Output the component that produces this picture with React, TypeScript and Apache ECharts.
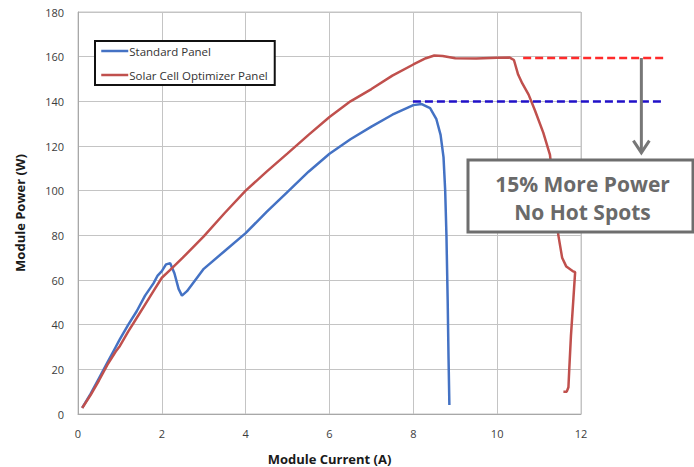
import React, { useEffect, useRef } from "react";
import * as echarts from "echarts";

// Standard panel: module current (A) vs module power (W)
const standardCurrent = [0.1, 0.3, 0.5, 0.7, 0.9, 1.0, 1.2, 1.4, 1.6, 1.8, 1.9, 2.0, 2.1, 2.2, 2.3, 2.4, 2.48, 2.6, 2.8, 3.0, 3.5, 4.0, 4.5, 5.0, 5.5, 6.0, 6.5, 7.0, 7.5, 8.0, 8.2, 8.4, 8.55, 8.65, 8.72, 8.76, 8.79, 8.82, 8.84, 8.86];
const standardPower = [2.7, 9, 16, 23, 30, 33.5, 40, 46, 53, 58.5, 62, 64, 67, 67.5, 63, 56, 53, 55, 60, 65, 73, 81, 90.5, 99.5, 108.5, 116.5, 123, 128.7, 134, 138.3, 138.8, 137, 132, 125, 115, 100, 80, 50, 25, 4];

// Solar Cell Optimizer panel
const optimizerCurrent = [0.1, 0.3, 0.5, 0.7, 0.9, 1.0, 1.2, 1.4, 1.6, 1.8, 2.0, 2.2, 2.5, 3.0, 3.5, 4.0, 4.5, 5.0, 5.5, 6.0, 6.5, 7.0, 7.5, 8.0, 8.3, 8.5, 8.7, 9.0, 9.5, 10.0, 10.3, 10.4, 10.5, 10.6, 10.75, 10.9, 11.1, 11.26, 11.4, 11.46, 11.55, 11.65, 11.8, 11.86, 11.82, 11.76, 11.72, 11.7, 11.66, 11.58];
const optimizerPower = [2.7, 8.5, 15, 22, 28, 30.5, 37, 43, 49, 55, 61, 64.5, 70, 79.5, 90, 100, 108.5, 116.7, 125, 133, 140, 145.5, 151.5, 156.5, 159.3, 160.5, 160.3, 159.3, 159.2, 159.5, 159.6, 158.5, 152, 148, 143, 136, 126, 116, 90, 80, 70, 66, 64, 63.5, 52, 35, 20, 12, 10, 10];

// Reference levels (dashed) and annotation
const optimizerMaxLine = { current: [10.62, 14.05], power: 159.4 };
const standardMaxLine = { current: [7.99, 14.0], power: 139.9 };
const arrowCurrent = 13.44;
const arrowPower = [159.4, 117];

const xTicks = { min: 0, max: 12, interval: 2 };
const yTicks = { min: 0, max: 180, interval: 20 };

const legendNames = ["Standard Panel", "Solar Cell Optimizer Panel"];
const annotationLines = ["15% More Power", "No Hot Spots"];

const pairs = (xs: number[], ys: number[]) => xs.map((x, i) => [x, ys[i]]);

export default function App() {
  const ref = useRef<HTMLDivElement>(null);

  useEffect(() => {
    if (!ref.current) return;
    const chart = echarts.init(ref.current, undefined, { renderer: "svg" });
    const font = "'Open Sans', 'Liberation Sans', sans-serif";
    chart.setOption({
      animation: false,
      backgroundColor: "#ffffff",
      grid: {
        left: 78,
        right: 113,
        top: 12,
        bottom: 53,
        containLabel: false,
        outerBoundsMode: "none",
        show: true,
        borderColor: "#c4c4c4",
        borderWidth: 1,
      },
      legend: {
        data: legendNames,
        orient: "vertical",
        left: 95,
        top: 41,
        backgroundColor: "#ffffff",
        borderColor: "#111111",
        borderWidth: 2,
        padding: [4, 7, 4, 5],
        itemWidth: 27,
        itemHeight: 14,
        itemGap: 12,
        selectedMode: false,
        itemStyle: { opacity: 0 },
        lineStyle: { width: 2.5 },
        textStyle: { fontSize: 11.5, color: "#333333", fontFamily: font, padding: [0, 0, 0, -4] },
      },
      xAxis: {
        type: "value",
        min: xTicks.min,
        max: xTicks.max,
        interval: xTicks.interval,
        name: "Module Current (A)",
        nameLocation: "middle",
        nameGap: 38,
        nameTextStyle: { fontSize: 13, fontWeight: "bold", color: "#1a1a1a", fontFamily: font },
        axisLine: { show: true, lineStyle: { color: "#a8a8a8", width: 1 } },
        axisTick: { show: false },
        axisLabel: { margin: 14, fontSize: 11, color: "#3c3c3c", fontFamily: font },
        splitLine: { show: true, lineStyle: { color: "#c4c4c4", width: 1 } },
      },
      yAxis: {
        type: "value",
        min: yTicks.min,
        max: yTicks.max,
        interval: yTicks.interval,
        name: "Module Power (W)",
        nameLocation: "middle",
        nameGap: 52,
        nameTextStyle: { fontSize: 13, fontWeight: "bold", color: "#1a1a1a", fontFamily: font },
        axisLine: { show: true, lineStyle: { color: "#a8a8a8", width: 1 } },
        axisTick: { show: false },
        axisLabel: { margin: 14, fontSize: 11, color: "#3c3c3c", fontFamily: font },
        splitLine: { show: true, lineStyle: { color: "#c4c4c4", width: 1 } },
      },
      series: [
        {
          name: legendNames[0],
          type: "line",
          data: pairs(standardCurrent, standardPower),
          symbol: "none",
          silent: true,
          z: 3,
          color: "#4472c4",
          lineStyle: { color: "#4472c4", width: 2.5 },
        },
        {
          name: legendNames[1],
          type: "line",
          data: pairs(optimizerCurrent, optimizerPower),
          symbol: "none",
          silent: true,
          z: 3,
          color: "#c0504d",
          lineStyle: { color: "#c0504d", width: 2.5 },
        },
      ],
    });

    const px = (c: number, p: number) => chart.convertToPixel({ gridIndex: 0 }, [c, p]) as number[];
    const redA = px(optimizerMaxLine.current[0], optimizerMaxLine.power);
    const redB = px(optimizerMaxLine.current[1], optimizerMaxLine.power);
    const bluA = px(standardMaxLine.current[0], standardMaxLine.power);
    const bluB = px(standardMaxLine.current[1], standardMaxLine.power);
    const top = px(arrowCurrent, arrowPower[0]);
    const bot = px(arrowCurrent, arrowPower[1]);
    const ax = top[0];
    const boxX = 468, boxY = 160, boxW = 225, boxH = 72;
    const textStyle = {
      fill: "#6a6a6a",
      font: "bold 21px 'Open Sans', sans-serif",
      align: "center",
      verticalAlign: "middle",
    };
    chart.setOption({
      graphic: [
        {
          type: "line",
          z: 90,
          shape: { x1: redA[0], y1: redA[1], x2: redB[0], y2: redB[1] },
          style: { stroke: "#ff2b2b", lineWidth: 2.5, lineDash: [8, 4] },
        },
        {
          type: "line",
          z: 90,
          shape: { x1: bluA[0], y1: bluA[1], x2: bluB[0], y2: bluB[1] },
          style: { stroke: "#2010c8", lineWidth: 2.5, lineDash: [8, 4] },
        },
        {
          type: "line",
          z: 100,
          shape: { x1: ax, y1: top[1], x2: ax, y2: bot[1] - 1 },
          style: { stroke: "#777777", lineWidth: 3 },
        },
        {
          type: "polyline",
          z: 100,
          shape: { points: [[ax - 8, bot[1] - 12], [ax, bot[1]], [ax + 8, bot[1] - 12]] },
          style: { stroke: "#777777", lineWidth: 3, fill: null },
        },
        {
          type: "rect",
          z: 100,
          shape: { x: boxX, y: boxY, width: boxW, height: boxH },
          style: { fill: "#ffffff", stroke: "#6e6e6e", lineWidth: 3 },
        },
        {
          type: "text",
          z: 101,
          x: boxX + boxW / 2 + 2,
          y: 184,
          style: { ...textStyle, text: annotationLines[0] },
        },
        {
          type: "text",
          z: 101,
          x: boxX + boxW / 2 + 2,
          y: 212,
          style: { ...textStyle, text: annotationLines[1] },
        },
      ],
    });

    return () => chart.dispose();
  }, []);

  return (
    <div
      ref={ref}
      style={{ position: "fixed", left: 0, top: 0, width: 694, height: 467 }}
    />
  );
}
